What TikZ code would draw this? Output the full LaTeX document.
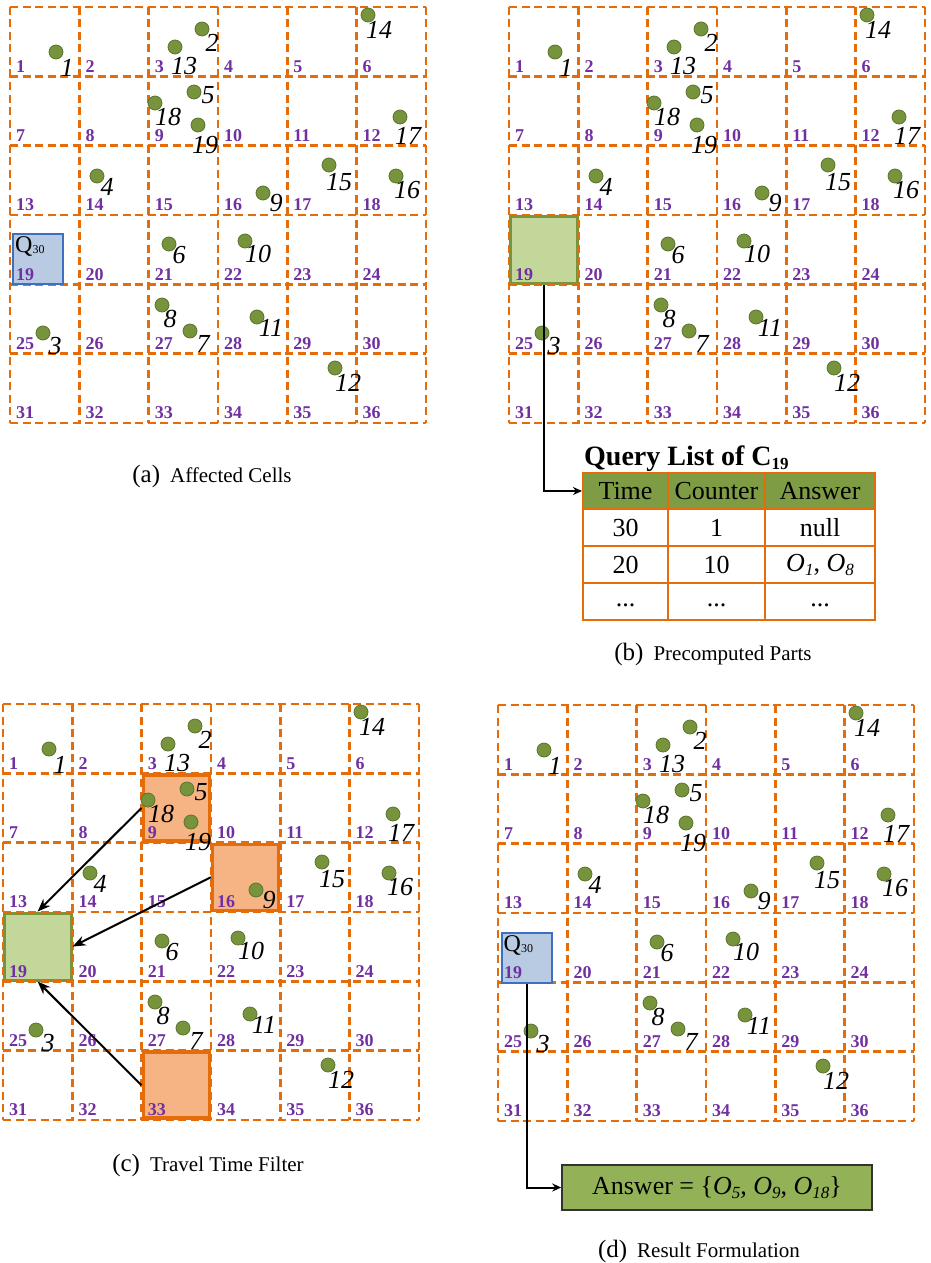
\documentclass[tikz,border=0pt]{standalone}
\usepackage{fontspec}
\setmainfont{Liberation Serif}
\usetikzlibrary{arrows.meta,calc}
\definecolor{gridor}{HTML}{E46C0A}
\definecolor{numpur}{HTML}{7030A0}
\definecolor{dotgr}{HTML}{77933C}
\definecolor{dotdk}{HTML}{5A7530}
\definecolor{qfill}{HTML}{B9CBE3}
\definecolor{qdraw}{HTML}{3F6FC0}
\definecolor{lgreen}{HTML}{C4D79B}
\definecolor{orfill}{HTML}{F6B485}
\definecolor{hdrgreen}{HTML}{7E9C44}
\definecolor{ansgreen}{HTML}{93B257}
\def\cs{69.3}
\newcommand\mysubs[1]{\raisebox{-4pt}{\fontsize{17}{17}\selectfont #1}}
\newcommand\mygrid{%
  \foreach \i in {0,...,6}{%
    \draw[gridline] (\i*\cs,0) -- (\i*\cs,6*\cs);
    \draw[gridline] (0,\i*\cs) -- (6*\cs,\i*\cs);
  }}
\newcommand\mynums[1]{%
  \foreach \r in {0,...,5}{\foreach \c in {0,...,5}{%
    \pgfmathtruncatemacro\k{\r*6+\c+1}
    \node[cellnum] (#1-n\k) at (\c*\cs+6,\r*\cs+\cs-4) {\k};
  }}}
\newcommand\mydots[1]{%
  \foreach \n/\x/\y/\lx/\ly in {1/46/45/11/16,2/192/22/10/14,13/165/40/9/19,14/358/8/11/15,5/184/85/14/3,18/145/96/13/14,19/188/118/7/20,17/390/110/8/19,4/87/169/10/11,15/319/158/10/17,16/386/169/11/14,9/253/186/13/10,6/159/237/10/11,10/235/234/13/13,8/152/298/8/14,7/180/324/13/13,11/247/310/14/11,3/33/326/12/13,12/325/361/13/15}{%
    \node[dot] (#1-d\n) at (\x,\y) {};
    \node[dotlab] (#1-l\n) at (\x+\lx,\y+\ly) {\n};
  }}
\begin{document}
\begin{tikzpicture}[x=1pt,y=-1pt,
  gridline/.style={draw=gridor,line width=2.6pt,dash pattern=on 8pt off 4.5pt},
  cellnum/.style={anchor=base west,inner sep=0pt,text=numpur,font=\fontsize{18}{18}\selectfont\bfseries},
  dot/.style={circle,fill=dotgr,draw=dotdk,line width=0.8pt,minimum size=14pt,inner sep=0pt},
  dotlab/.style={inner sep=0pt,font=\fontsize{26}{26}\selectfont\itshape},
  qbox/.style={draw=qdraw,fill=qfill,line width=2pt,minimum width=50pt,minimum height=50pt,inner sep=0pt},
  qtext/.style={anchor=north west,inner sep=0pt,font=\fontsize{24}{24}\selectfont},
  gbox/.style={draw=dotgr,fill=lgreen,line width=3pt,minimum width=67pt,minimum height=67pt,inner sep=0pt},
  obox/.style={draw=gridor,fill=orfill,line width=3.5pt,minimum width=66pt,minimum height=66pt,inner sep=0pt},
  conn/.style={draw=black,line width=2pt},
  arr/.style={conn,-{Stealth[length=13pt,width=10pt]}},
  sarr/.style={conn,-{Stealth[length=9pt,width=8pt]}},
  tcell/.style={inner sep=0pt,font=\fontsize{26}{26}\selectfont},
  captext/.style={anchor=base,inner sep=0pt}
]
\useasboundingbox (0,0) rectangle (930,1263);

% ---------- (a) ----------
\begin{scope}[shift={(10,7)}]
  \mygrid
  \node[qbox] (qa) at (28,252) {};
  \node[qtext] (qa-t) at ($(qa.north west)+(3,3)$) {Q\raisebox{-1pt}{\fontsize{12}{12}\selectfont 30}};
  \mynums{a}
  \mydots{a}
\end{scope}
\node[captext] (capa) at (212,482) {{\fontsize{25}{25}\selectfont (a)}\hspace{10pt}{\fontsize{21}{21}\selectfont Affected Cells}};

% ---------- (b) ----------
\begin{scope}[shift={(509,7)}]
  \node[gbox] (gb) at (34.65,242.55) {};
  \mygrid
  \mynums{b}
  \mydots{b}
\end{scope}
\node[anchor=base west,inner sep=0pt,font=\fontsize{28}{28}\selectfont\bfseries] (qtitle) at (584,465) {Query List of C\mysubs{19}};
\node[draw=gridor,fill=hdrgreen,line width=2pt,minimum width=292pt,minimum height=36pt,inner sep=0pt] (hdr) at (729,491) {};
\draw[draw=gridor,line width=2pt] (583,509) rectangle (875,620);
\draw[draw=gridor,line width=2pt] (583,546) -- (875,546) (583,583) -- (875,583)
  (668,473) -- (668,620) (765,473) -- (765,620);
\node[tcell] (h1) at (625.5,491) {Time};
\node[tcell] (h2) at (716.5,491) {Counter};
\node[tcell] (h3) at (820,491) {Answer};
\node[tcell] (r11) at (625.5,527.5) {30};
\node[tcell] (r12) at (716.5,527.5) {1};
\node[tcell] (r13) at (820,527.5) {null};
\node[tcell] (r21) at (625.5,564.5) {20};
\node[tcell] (r22) at (716.5,564.5) {10};
\node[tcell] (r23) at (820,564.5) {\textit{O}\mysubs{\itshape 1}, \textit{O}\mysubs{\itshape 8}};
\node[tcell] (r31) at (625.5,605) {...};
\node[tcell] (r32) at (716.5,605) {...};
\node[tcell] (r33) at (820,605) {...};
\draw[sarr] (gb.south) |- (hdr.west);
\node[captext] (capb) at (713,660) {{\fontsize{25}{25}\selectfont (b)}\hspace{10pt}{\fontsize{21}{21}\selectfont Precomputed Parts}};

% ---------- (c) ----------
\begin{scope}[shift={(3,704)}]
  \node[gbox] (gc) at (34.65,242.55) {};
  \mygrid
  \node[obox] (c9) at (173.25,103.95) {};
  \node[obox] (c16) at (242.55,173.25) {};
  \node[obox] (c33) at (173.25,381.15) {};
  \mynums{c}
  \mydots{c}
\end{scope}
\draw[arr] (c9.west) -- (gc.north);
\draw[arr] (c16.west) -- (gc.east);
\draw[arr] (c33.west) -- (gc.south);
\node[captext] (capc) at (208,1171) {{\fontsize{25}{25}\selectfont (c)}\hspace{10pt}{\fontsize{21}{21}\selectfont Travel Time Filter}};

% ---------- (d) ----------
\begin{scope}[shift={(498,705)}]
  \mygrid
  \node[qbox] (qd) at (28.5,253) {};
  \node[qtext] (qd-t) at ($(qd.north west)+(3,3)$) {Q\raisebox{-1pt}{\fontsize{12}{12}\selectfont 30}};
  \mynums{d}
  \mydots{d}
\end{scope}
\node[draw=black!80,fill=ansgreen,line width=1.5pt,minimum width=310pt,minimum height=45pt,inner sep=0pt,font=\fontsize{26}{26}\selectfont] (ans) at (717,1187.5)
  {Answer = \{\textit{O}\mysubs{\itshape 5}, \textit{O}\mysubs{\itshape 9}, \textit{O}\mysubs{\itshape 18}\}};
\draw[sarr] (qd.south) |- (ans.west);
\node[captext] (capd) at (699,1257) {{\fontsize{25}{25}\selectfont (d)}\hspace{10pt}{\fontsize{21}{21}\selectfont Result Formulation}};
\end{tikzpicture}
\end{document}
